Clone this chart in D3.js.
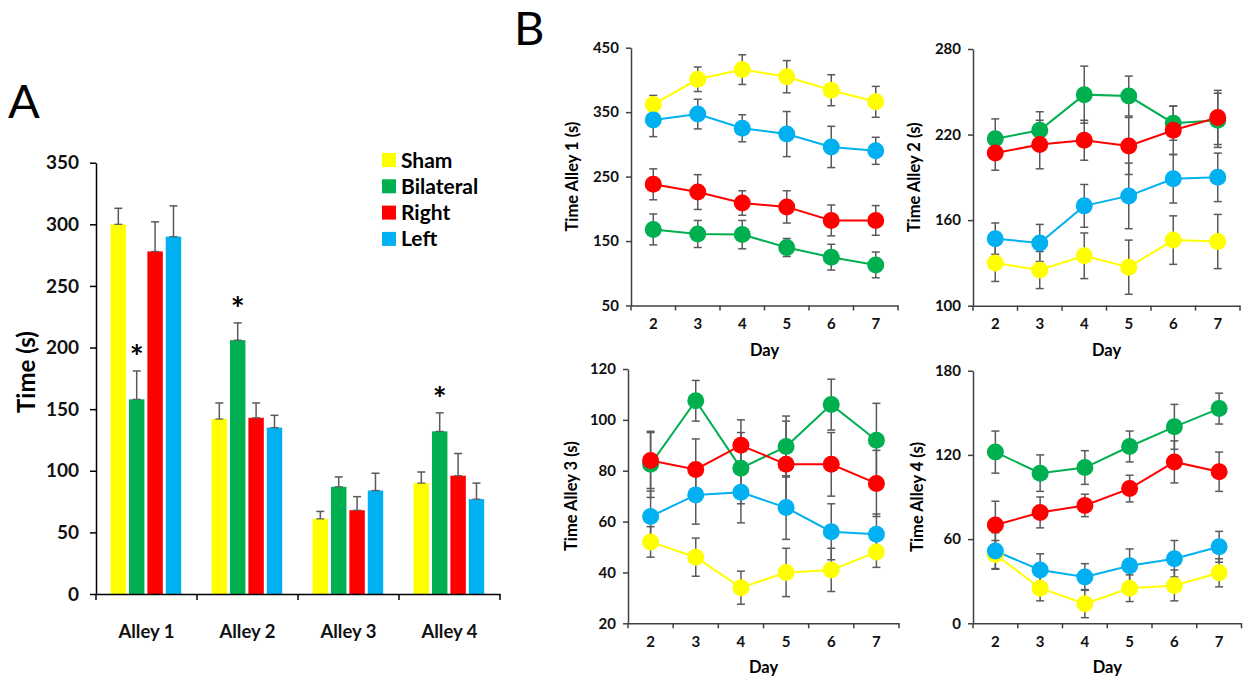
<!DOCTYPE html>
<html><head><meta charset="utf-8">
<script src="https://cdn.jsdelivr.net/npm/d3@7"></script>
<style>
body{margin:0;background:#fff;}
svg text{font-family:Lato,"Open Sans",sans-serif;}
</style></head>
<body><svg id="c" width="1256" height="684"></svg>
<script>
// ---------- DATA ----------
const groups = ["Sham","Bilateral","Right","Left"];
const colors = ["#FFFF00","#00B050","#FF0000","#00B0F0"];
const alleys = ["Alley 1","Alley 2","Alley 3","Alley 4"];
// Panel A: mean time per alley (rows: groups; cols: alleys)
const barSham      = [300, 142, 61, 90];
const barBilateral = [158, 206, 87, 132];
const barRight     = [278, 143, 68, 96];
const barLeft      = [290, 135, 84, 77];
const errSham      = [13, 13, 6, 9];
const errBilateral = [23, 14, 8, 15];
const errRight     = [24, 12, 11, 18];
const errLeft      = [25, 10, 14, 13];
const sigMarks     = [[0,1],[1,1],[3,1]]; // [alley, group] with *
const aTicks = [0,50,100,150,200,250,300,350];

// Panel B: days
const days = [2,3,4,5,6,7];
// Alley 1
const a1Sham=[362,401,416,405,384,366], a1ShamE=[14,19,23,25,24,24];
const a1Bil=[168,161,160,140,125,113],  a1BilE=[24,21,22,14,20,20];
const a1Right=[238,226,209,203,182,182], a1RightE=[24,27,19,25,24,23];
const a1Left=[338,347,325,316,296,290], a1LeftE=[26,23,21,35,32,21];
const a1Ticks=[50,150,250,350,450];
// Alley 2
const a2Sham=[130,125,135,127,146,145], a2ShamE=[13,13,16,19,17,19];
const a2Bil=[217,223,248,247,228,230],  a2BilE=[14,13,20,14,12,19];
const a2Right=[207,213,216,212,223,232], a2RightE=[12,17,14,20,17,19];
const a2Left=[147,144,170,177,189,190], a2LeftE=[11,13,15,23,17,17];
const a2Ticks=[100,160,220,280];
// Alley 3
const a3Sham=[52,46,34,40,41,48], a3ShamE=[6,7.5,6.5,9.5,8.5,6];
const a3Bil=[82.5,107.5,81,89.5,106,92], a3BilE=[13,8,14,12,10,14.5];
const a3Right=[84,80.5,90,82.5,82.5,75], a3RightE=[11,12,10,17,12.5,13];
const a3Left=[62,70.5,71.5,65.5,56,55], a3LeftE=[10,11.5,12,12.5,11,8];
const a3Ticks=[20,40,60,80,100,120];
// Alley 4
const a4Sham=[49,25,14,25,27,36], a4ShamE=[10,9,10,9.5,11,10];
const a4Bil=[122,107,111,126,140,153], a4BilE=[15,13,12,11,16,11];
const a4Right=[70,79,84,96,115,108], a4RightE=[17,11,8,9.5,15,14];
const a4Left=[51.5,38,33,41,46,54.5], a4LeftE=[13,11.5,9.5,12,13,11];
const a4Ticks=[0,60,120,180];

// ---------- DRAW ----------
const svg = d3.select("#c");
const axisCol = "#404040", errCol = "#5a5a5a";

// Panel letters
svg.append("text").attr("x",8).attr("y",118).attr("font-size",47).attr("font-family","'Open Sans',sans-serif").text("A");
svg.append("text").attr("x",514).attr("y",45).attr("font-size",47).attr("font-family","'Open Sans',sans-serif").text("B");

// Panel A
(function(){
  const y = d3.scaleLinear().domain([0,350]).range([594,162.7]);
  const x0 = d3.scaleBand().domain(alleys).range([96,500]);
  const x1 = d3.scaleBand().domain(groups).range([14.6,85.2]).paddingInner(0.16);
  const vals=[barSham,barBilateral,barRight,barLeft];
  const errs=[errSham,errBilateral,errRight,errLeft];
  const g = svg.append("g");
  alleys.forEach((a,ai)=>{
    groups.forEach((gr,gi)=>{
      const bx = x0(a)+x1(gr), bw=x1.bandwidth(), v=vals[gi][ai], e=errs[gi][ai];
      g.append("rect").attr("x",bx).attr("y",y(v)).attr("width",bw).attr("height",y(0)-y(v)).attr("fill",colors[gi]);
      const cx=bx+bw/2;
      g.append("line").attr("x1",cx).attr("x2",cx).attr("y1",y(v)).attr("y2",y(v+e)).attr("stroke",errCol).attr("stroke-width",1.5);
      g.append("line").attr("x1",cx-4).attr("x2",cx+4).attr("y1",y(v+e)).attr("y2",y(v+e)).attr("stroke",errCol).attr("stroke-width",1.5);
      g.append("line").attr("x1",cx-4).attr("x2",cx+4).attr("y1",y(v)).attr("y2",y(v)).attr("stroke",errCol).attr("stroke-width",1.2);
    });
  });
  sigMarks.forEach(([ai,gi])=>{
    const bx=x0(alleys[ai])+x1(groups[gi])+x1.bandwidth()/2;
    const top=vals[gi][ai]+errs[gi][ai];
    g.append("text").attr("x",bx).attr("y",y(top)-2).attr("text-anchor","middle").attr("font-size",33).attr("font-weight","bold").text("*");
  });
  const ya = svg.append("g").attr("transform","translate(96,0)").call(d3.axisLeft(y).tickValues(aTicks).tickSize(6).tickSizeOuter(0));
  ya.select(".domain").attr("stroke","#000").attr("stroke-width",1.5);
  ya.selectAll(".tick line").attr("stroke","#000").attr("stroke-width",1.5);
  ya.selectAll(".tick text").attr("font-size",19).attr("font-weight","bold").attr("fill","#111").attr("x",-17).style("font-family","Lato,sans-serif");
  const xa = svg.append("g").attr("transform","translate(0,594)").call(d3.axisBottom(x0).tickSize(0));
  xa.select(".domain").attr("stroke","#000").attr("stroke-width",1.5);
  xa.selectAll(".tick text").attr("font-size",18.5).attr("font-weight","bold").attr("fill","#111").attr("y",31).style("font-family","Lato,sans-serif");
  const bounds = alleys.map(a=>x0(a)).concat([x0.range()[1]]);
  svg.append("g").selectAll("line").data(bounds).join("line").attr("x1",d=>d).attr("x2",d=>d).attr("y1",594).attr("y2",600).attr("stroke","#000").attr("stroke-width",1.5);
  svg.append("text").attr("transform","translate(35,372) rotate(-90)").attr("text-anchor","middle").attr("font-size",24).attr("font-weight","bold").text("Time (s)");
  // legend
  const lg = svg.append("g");
  groups.forEach((gr,i)=>{
    lg.append("rect").attr("x",382).attr("y",153+i*26.3).attr("width",14).attr("height",14).attr("fill",colors[i]);
    lg.append("text").attr("x",401).attr("y",160+i*26.3).attr("dy","0.36em").attr("font-size",21).attr("font-weight","bold").text(gr);
  });
})();

// Panel B
function linePanel(cfg){
  const {xr,yr,dom,ticks,label,labelX,series,errors} = cfg;
  const x = d3.scaleBand().domain(days).range(xr);
  const y = d3.scaleLinear().domain(dom).range(yr);
  const g = svg.append("g");
  const xc = d=>x(d)+x.bandwidth()/2;
  series.forEach((s,si)=>{
    s.forEach((v,i)=>{
      const e=errors[si][i], cx=xc(days[i]);
      g.append("line").attr("x1",cx).attr("x2",cx).attr("y1",y(v-e)).attr("y2",y(v+e)).attr("stroke",errCol).attr("stroke-width",1.5);
      [v-e,v+e].forEach(t=>g.append("line").attr("x1",cx-4).attr("x2",cx+4).attr("y1",y(t)).attr("y2",y(t)).attr("stroke",errCol).attr("stroke-width",1.5));
    });
  });
  series.forEach((s,si)=>{
    const line = d3.line().x((v,i)=>xc(days[i])).y(v=>y(v));
    g.append("path").attr("d",line(s)).attr("fill","none").attr("stroke",colors[si]).attr("stroke-width",2);
  });
  series.forEach((s,si)=>{
    g.selectAll(null).data(s).join("circle").attr("cx",(v,i)=>xc(days[i])).attr("cy",v=>y(v)).attr("r",8.5).attr("fill",colors[si]);
  });
  const ya = svg.append("g").attr("transform",`translate(${xr[0]},0)`).call(d3.axisLeft(y).tickValues(ticks).tickSize(5).tickSizeOuter(0));
  ya.select(".domain").attr("stroke",axisCol).attr("stroke-width",1.5);
  ya.selectAll(".tick line").attr("stroke",axisCol).attr("stroke-width",1.5);
  ya.selectAll(".tick text").attr("font-size",15).attr("font-weight","bold").attr("fill","#111").attr("x",-12).style("font-family","Lato,sans-serif");
  const xa = svg.append("g").attr("transform",`translate(0,${yr[0]})`).call(d3.axisBottom(x).tickSize(0));
  xa.select(".domain").attr("stroke",axisCol).attr("stroke-width",1.5);
  xa.selectAll(".tick text").attr("font-size",15).attr("font-weight","bold").attr("fill","#111").attr("y",13).style("font-family","Lato,sans-serif");
  const bounds = days.map(d=>x(d)).concat([xr[1]]);
  svg.append("g").selectAll("line").data(bounds).join("line").attr("x1",d=>d).attr("x2",d=>d).attr("y1",yr[0]).attr("y2",yr[0]+5).attr("stroke",axisCol).attr("stroke-width",1.5);
  svg.append("text").attr("x",(xr[0]+xr[1])/2).attr("y",yr[0]+50).attr("text-anchor","middle").attr("font-size",16.5).attr("font-weight","bold").text("Day");
  svg.append("text").attr("transform",`translate(${labelX},${(yr[0]+yr[1])/2}) rotate(-90)`).attr("text-anchor","middle").attr("dy","0.35em").attr("font-size",16.5).attr("font-weight","bold").text(label);
}
linePanel({xr:[631,898],yr:[305.5,47.7],dom:[50,450],ticks:a1Ticks,label:"Time Alley 1 (s)",labelX:572,
  series:[a1Sham,a1Bil,a1Right,a1Left],errors:[a1ShamE,a1BilE,a1RightE,a1LeftE]});
linePanel({xr:[973,1240],yr:[305.7,49],dom:[100,280],ticks:a2Ticks,label:"Time Alley 2 (s)",labelX:914,
  series:[a2Sham,a2Bil,a2Right,a2Left],errors:[a2ShamE,a2BilE,a2RightE,a2LeftE]});
linePanel({xr:[628,899],yr:[623.3,369],dom:[20,120],ticks:a3Ticks,label:"Time Alley 3 (s)",labelX:571,
  series:[a3Sham,a3Bil,a3Right,a3Left],errors:[a3ShamE,a3BilE,a3RightE,a3LeftE]});
linePanel({xr:[973,1241.5],yr:[623.3,370.7],dom:[0,180],ticks:a4Ticks,label:"Time Alley 4 (s)",labelX:917,
  series:[a4Sham,a4Bil,a4Right,a4Left],errors:[a4ShamE,a4BilE,a4RightE,a4LeftE]});
</script></body></html>
